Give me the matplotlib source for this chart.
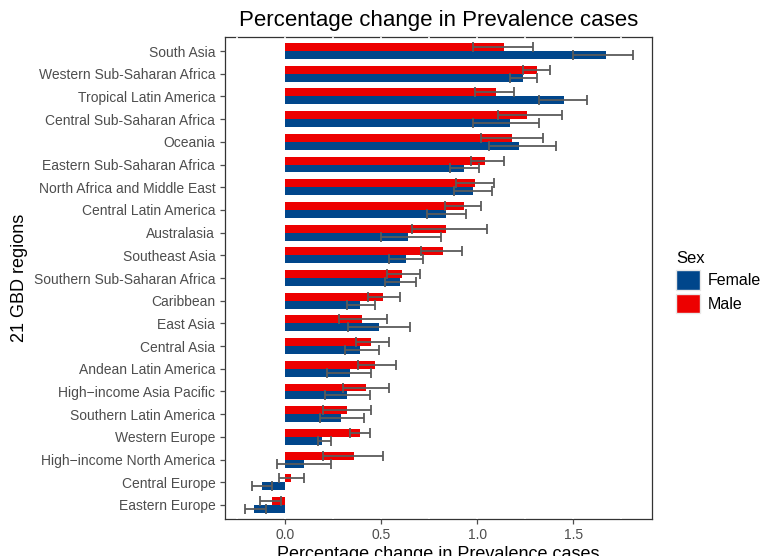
"""Percentage change in prevalence cases by GBD region and sex."""

import matplotlib

matplotlib.use("Agg")
import matplotlib.pyplot as plt
from matplotlib.patches import Patch
import numpy as np


regions = [
    "South Asia", "Western Sub-Saharan Africa", "Tropical Latin America",
    "Central Sub-Saharan Africa", "Oceania", "Eastern Sub-Saharan Africa",
    "North Africa and Middle East", "Central Latin America", "Australasia",
    "Southeast Asia", "Southern Sub-Saharan Africa", "Caribbean", "East Asia",
    "Central Asia", "Andean Latin America", "High\u2212income Asia Pacific",
    "Southern Latin America", "Western Europe", "High\u2212income North America",
    "Central Europe", "Eastern Europe",
]

male_val = [1.14, 1.31, 1.10, 1.26, 1.18, 1.04, 0.99, 0.93, 0.84, 0.82, 0.61,
            0.51, 0.40, 0.45, 0.47, 0.42, 0.32, 0.39, 0.36, 0.03, -0.07]
male_lo = [0.98, 1.24, 0.99, 1.11, 1.02, 0.97, 0.89, 0.83, 0.66, 0.71, 0.53,
           0.43, 0.28, 0.37, 0.38, 0.30, 0.20, 0.34, 0.20, -0.03, -0.13]
male_hi = [1.29, 1.38, 1.19, 1.44, 1.345, 1.14, 1.09, 1.02, 1.05, 0.92, 0.70,
           0.60, 0.53, 0.54, 0.58, 0.54, 0.45, 0.44, 0.51, 0.10, -0.02]

female_val = [1.67, 1.24, 1.45, 1.17, 1.22, 0.93, 0.98, 0.84, 0.64, 0.63, 0.60,
              0.39, 0.49, 0.39, 0.34, 0.32, 0.29, 0.19, 0.10, -0.12, -0.16]
female_lo = [1.50, 1.17, 1.32, 0.98, 1.06, 0.86, 0.88, 0.74, 0.50, 0.54, 0.52,
             0.32, 0.33, 0.31, 0.22, 0.21, 0.18, 0.17, -0.04, -0.17, -0.21]
female_hi = [1.81, 1.31, 1.57, 1.32, 1.41, 1.01, 1.075, 0.94, 0.81, 0.72, 0.68,
             0.47, 0.65, 0.49, 0.45, 0.44, 0.41, 0.24, 0.24, -0.07, -0.10]

FEMALE_COLOR = "#00468B"
MALE_COLOR = "#ED0000"
ERR_COLOR = "#5A5A5A"


def main() -> None:
    plt.rcParams.update({"font.family": ["Liberation Sans", "DejaVu Sans"]})
    fig = plt.figure(figsize=(7.64, 5.56), dpi=100)
    ax = fig.add_axes([0.2945, 0.0673, 0.5589, 0.8654])

    n = len(regions)
    y = n - np.arange(n)  # first region at top
    h = 0.35

    male_val_a = np.array(male_val)
    female_val_a = np.array(female_val)
    male_err = [male_val_a - np.array(male_lo), np.array(male_hi) - male_val_a]
    female_err = [female_val_a - np.array(female_lo), np.array(female_hi) - female_val_a]

    ax.barh(y + h / 2, male_val_a, height=h, color=MALE_COLOR, zorder=2)
    ax.barh(y - h / 2, female_val_a, height=h, color=FEMALE_COLOR, zorder=2)
    ax.errorbar(male_val_a, y + h / 2, xerr=male_err, fmt="none", ecolor=ERR_COLOR,
                elinewidth=1.3, capsize=3.5, capthick=1.3, zorder=3)
    ax.errorbar(female_val_a, y - h / 2, xerr=female_err, fmt="none", ecolor=ERR_COLOR,
                elinewidth=1.3, capsize=3.5, capthick=1.3, zorder=3)

    ax.set_xlim(-0.3125, 1.91)
    ax.set_ylim(0.4, n + 0.6)
    ax.set_yticks(y)
    ax.set_yticklabels(regions)
    ax.set_xticks([0, 0.5, 1.0, 1.5])
    ax.set_xticklabels(["0.0", "0.5", "1.0", "1.5"])
    ax.tick_params(axis="both", labelsize=10, colors="#4D4D4D", length=3.5, width=0.9)

    for spine in ax.spines.values():
        spine.set_color("#333333")
        spine.set_linewidth(0.9)
        spine.set_zorder(0.3)
    for xv in [-0.25, 0, 0.25, 0.5, 0.75, 1.0, 1.25, 1.5, 1.75]:
        ax.axvline(xv, color="white", linewidth=1.2, zorder=0.5)

    ax.set_title("Percentage change in Prevalence cases", fontsize=16, pad=8)
    ax.set_xlabel("Percentage change in Prevalence cases", fontsize=13, labelpad=3)
    ax.set_ylabel("21 GBD regions", fontsize=13)
    ax.yaxis.set_label_coords(-0.462, 0.5)

    handles = [Patch(facecolor=FEMALE_COLOR, edgecolor="#E8E8E8", label="Female"),
               Patch(facecolor=MALE_COLOR, edgecolor="#E8E8E8", label="Male")]
    leg = fig.legend(handles=handles, title="Sex", loc="upper left",
                     bbox_to_anchor=(0.866, 0.574), frameon=False, fontsize=11.5,
                     title_fontsize=12, handlelength=1.5, handleheight=1.5,
                     handletextpad=0.5, labelspacing=0.25)
    leg._legend_box.align = "left"

    fig.savefig("out.png", dpi=100)
    plt.close(fig)


if __name__ == "__main__":
    main()
